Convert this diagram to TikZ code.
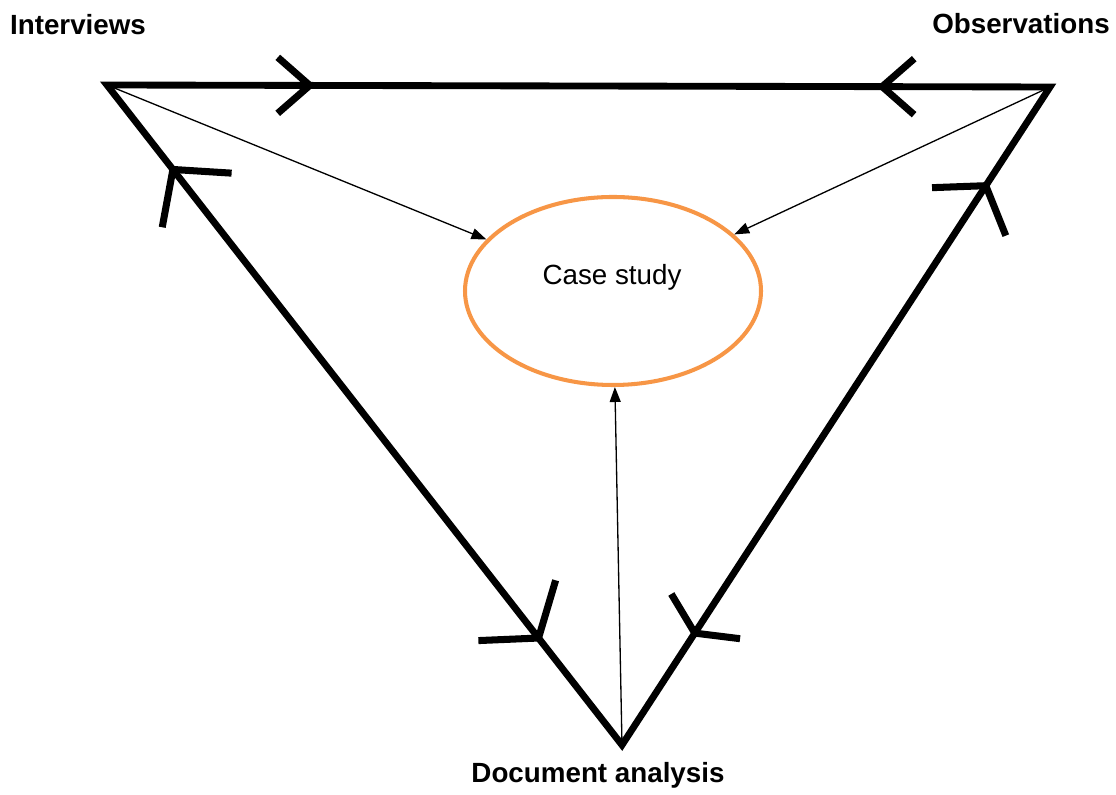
\documentclass[tikz,border=0pt]{standalone}
\usepackage{fontspec}
\setmainfont{Liberation Sans}
\usetikzlibrary{arrows.meta,decorations.markings,shapes.geometric}
\definecolor{caseorange}{RGB}{247,150,70}

\tikzset{
  side/.style={line width=3.9pt, line join=miter},
  feed/.style={line width=0.75pt, -{Triangle[length=0.3cm,width=0.22cm]}},
  lbl/.style={font=\fontsize{15.8}{19}\selectfont\bfseries},
  barb/.style n args={3}{postaction={decorate, decoration={markings,
    mark=at position #1 with {\draw[line width=4pt] (#2,#3) -- (0,0) -- (#2,-#3);}}}}
}

\begin{document}
\begin{tikzpicture}
   \useasboundingbox (0,0) rectangle (22.32,15.88);
   \coordinate (I) at (2.14,14.18);
   \coordinate (O) at (21.0,14.14);
   \coordinate (D) at (12.44,0.98);

   \draw[side] (I) -- (O) -- (D) -- cycle;
   \path[barb={0.215}{-0.64}{0.56}, barb={0.822}{0.64}{0.56}] (I) -- (O);
   \path[barb={0.128}{0.78}{0.88}, barb={0.838}{-0.7}{0.98}] (I) -- (D);
   \path[barb={0.15}{0.62}{0.88}, barb={0.83}{-0.4}{0.82}] (O) -- (D);

   \node[lbl] (interviews) at (1.56,15.38) {Interviews};
   \node[lbl] (observations) at (20.42,15.40) {Observations};
   \node[lbl] (docs) at (11.96,0.38) {Document analysis};

   \node[ellipse, draw=caseorange, line width=2.3pt, minimum width=5.92cm,
         minimum height=3.76cm, inner sep=0pt] (case) at (12.26,10.06) {};
   \node[font=\fontsize{15.8}{19}\selectfont] (casetext) at (12.24,10.34) {Case study};

   \draw[feed] (I) -- (case);
   \draw[feed] (O) -- (case);
   \draw[feed] (D) -- (case);
\end{tikzpicture}
\end{document}
